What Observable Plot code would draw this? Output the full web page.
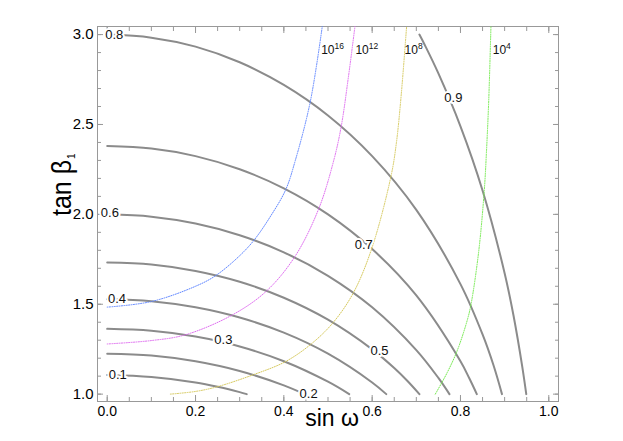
<!DOCTYPE html>
<html><head><meta charset="utf-8">
<script src="https://cdn.jsdelivr.net/npm/d3@7"></script>
<script src="https://cdn.jsdelivr.net/npm/@observablehq/plot@0.6"></script>
<style>body{margin:0;background:#fff}#chart{width:623px;height:441px}</style>
</head><body><div id="chart"></div>
<script>
// axis domains and ticks
const xDomain = [-0.022, 1.022];
const yDomain = [0.959, 3.045];
const xMajorTicks = [0, 0.2, 0.4, 0.6, 0.8, 1.0];
const xMinorTicks = [0,0.05,0.1,0.15,0.2,0.25,0.3,0.35,0.4,0.45,0.5,0.55,0.6,0.65,0.7,0.75,0.8,0.85,0.9,0.95,1.0];
const yMajorTicks = [1.0, 1.5, 2.0, 2.5, 3.0];
const yMinorTicks = [1.0,1.1,1.2,1.3,1.4,1.5,1.6,1.7,1.8,1.9,2.0,2.1,2.2,2.3,2.4,2.5,2.6,2.7,2.8,2.9,3.0];

// gray contour lines: [sin ω, tan β1]
const level01 = [[0,1.106],[0.1,1.095],[0.2,1.065],[0.25,1.041],[0.3,1.011],[0.316,1.0]];
const level02 = [[0,1.225],[0.1,1.215],[0.2,1.183],[0.3,1.129],[0.4,1.049],[0.447,1.0]];
const level03 = [[0,1.363],[0.1,1.352],[0.2,1.320],[0.3,1.265],[0.4,1.183],[0.5,1.069],[0.548,1.0]];
const level04 = [[0,1.528],[0.1,1.517],[0.2,1.483],[0.3,1.426],[0.4,1.342],[0.5,1.225],[0.6,1.065],[0.632,1.0]];
const level05 = [[0,1.732],[0.1,1.721],[0.2,1.685],[0.3,1.625],[0.4,1.536],[0.5,1.414],[0.6,1.249],[0.65,1.145],[0.68,1.073],[0.707,1.0]];
const level06 = [[0,2.0],[0.1,1.987],[0.2,1.949],[0.3,1.884],[0.4,1.789],[0.5,1.658],[0.6,1.483],[0.7,1.245],[0.75,1.090],[0.775,1.0]];
const level07 = [[0,2.380],[0.1,2.366],[0.2,2.324],[0.3,2.251],[0.4,2.145],[0.5,2.0],[0.6,1.807],[0.7,1.549],[0.8,1.183],[0.82,1.088],[0.837,1.0]];
const level08 = [[0,3.0],[0.1,2.983],[0.2,2.933],[0.3,2.846],[0.4,2.720],[0.5,2.550],[0.6,2.324],[0.7,2.025],[0.8,1.612],[0.85,1.332],[0.875,1.159],[0.894,1.0]];
const level09 = [[0.707,3.0],[0.72,2.938],[0.75,2.784],[0.8,2.490],[0.85,2.133],[0.9,1.673],[0.92,1.439],[0.94,1.152],[0.949,1.0]];
const levelValues = [0.1,0.2,0.3,0.4,0.5,0.6,0.7,0.8,0.9];

// contour labels
const contourLabelText = ["0.1","0.2","0.3","0.4","0.5","0.6","0.7","0.8","0.9"];
const contourLabelS = [0.024, 0.456, 0.263, 0.022, 0.6165, 0.006, 0.581, 0.016, 0.784];
const contourLabelT = [1.107, 1.0, 1.301, 1.529, 1.241, 2.006, 1.830, 3.0, 2.649];

// coloured dotted curves
const scale16 = [[0,1.484],[0.1,1.515],[0.2,1.600],[0.2455,1.659],[0.3,1.77],[0.333,1.858],[0.37,1.99],[0.404,2.136],[0.426,2.30],[0.46,2.628],[0.487,3.045]];
const scale12 = [[0,1.279],[0.1,1.298],[0.177,1.330],[0.283,1.440],[0.36,1.572],[0.425,1.765],[0.479,2.031],[0.513,2.30],[0.53,2.49],[0.546,2.76],[0.561,3.045]];
const scale8 = [[0.143,1.0],[0.2,1.015],[0.249,1.041],[0.331,1.108],[0.403,1.18],[0.462,1.279],[0.512,1.399],[0.558,1.566],[0.600,1.817],[0.643,2.216],[0.655,2.40],[0.666,2.67],[0.678,3.045]];
const scale4 = [[0.743,1.0],[0.770,1.12],[0.7925,1.241],[0.815,1.408],[0.824,1.501],[0.8415,1.798],[0.854,2.136],[0.859,2.355],[0.864,2.634],[0.869,3.045]];
const scaleColors = ["#5f86ff", "#df6cf0", "#d6c95c", "#74ea4e"];
const scaleLabelText = ["10^16", "10^12", "10^8", "10^4"];
const scaleLabelS = [0.4845, 0.562, 0.6735, 0.873];
const scaleLabelT = [2.913, 2.913, 2.913, 2.913];

// build tables
const contourRows = [level01,level02,level03,level04,level05,level06,level07,level08,level09]
  .flatMap((pts, i) => pts.map(([s, t]) => ({level: levelValues[i], s, t})));
const toRows = pts => pts.map(([s, t]) => ({s, t}));
const contourLabels = contourLabelText.map((text, i) => ({text, s: contourLabelS[i], t: contourLabelT[i]}));
const scaleLabels = scaleLabelText.map((text, i) => ({text, s: scaleLabelS[i], t: scaleLabelT[i]}));

const fmt = d => d.toFixed(1);
const tickColor = "#999999";
const dots = {strokeWidth: 1, strokeDasharray: "1,1.4", curve: "catmull-rom"};

const chart = Plot.plot({
  width: 623, height: 441,
  marginLeft: 97, marginRight: 65, marginTop: 26, marginBottom: 40,
  style: {fontFamily: "'Liberation Sans', Arial, sans-serif", background: "#fff", color: "#000"},
  x: {domain: xDomain},
  y: {domain: yDomain},
  marks: [
    Plot.frame({stroke: tickColor}),
    // left / right ticks
    Plot.axisY(yMajorTicks, {anchor: "left", tickSize: 0, tickPadding: 4, fontSize: 15, label: null, tickFormat: fmt}),
    Plot.axisY(yMajorTicks, {anchor: "left", tickSize: -6, fill: "none", label: null, stroke: tickColor}),
    Plot.axisY(yMinorTicks, {anchor: "left", tickSize: -4, fill: "none", label: null, stroke: tickColor}),
    Plot.axisY(yMajorTicks, {anchor: "right", tickSize: -6, fill: "none", label: null, stroke: tickColor}),
    Plot.axisY(yMinorTicks, {anchor: "right", tickSize: -4, fill: "none", label: null, stroke: tickColor}),
    // bottom / top ticks
    Plot.axisX(xMajorTicks, {anchor: "bottom", tickSize: 0, tickPadding: 5, fontSize: 14, label: null, tickFormat: fmt}),
    Plot.axisX(xMajorTicks, {anchor: "bottom", tickSize: -6, fill: "none", label: null, stroke: tickColor}),
    Plot.axisX(xMinorTicks, {anchor: "bottom", tickSize: -4, fill: "none", label: null, stroke: tickColor}),
    Plot.axisX(xMajorTicks, {anchor: "top", tickSize: -6, fill: "none", label: null, stroke: tickColor}),
    Plot.axisX(xMinorTicks, {anchor: "top", tickSize: -4, fill: "none", label: null, stroke: tickColor}),
    // gray contours
    Plot.line(contourRows, {x: "s", y: "t", z: "level", stroke: "#8b8b8b", strokeWidth: 2, curve: "catmull-rom"}),
    // coloured dotted curves
    Plot.line(toRows(scale16), {x: "s", y: "t", stroke: scaleColors[0], ...dots}),
    Plot.line(toRows(scale12), {x: "s", y: "t", stroke: scaleColors[1], ...dots}),
    Plot.line(toRows(scale8), {x: "s", y: "t", stroke: scaleColors[2], ...dots}),
    Plot.line(toRows(scale4), {x: "s", y: "t", stroke: scaleColors[3], ...dots}),
    // labels
    Plot.text(contourLabels, {x: "s", y: "t", text: "text", fontSize: 13, fill: "#111", stroke: "white", strokeWidth: 4}),
    Plot.text(scaleLabels, {x: "s", y: "t", text: "text", fontSize: 12, fill: "#111", textAnchor: "start"}),
    // axis titles
    Plot.text(["sin ω"], {text: d => d, frameAnchor: "bottom", dx: 4, dy: 24, lineAnchor: "bottom", fontSize: 23}),
    Plot.text(["tan β_1"], {text: d => d, frameAnchor: "left", rotate: -90, dx: -27, dy: 2, lineAnchor: "bottom", fontSize: 25})
  ]
});

// superscripts / subscripts as real text
const NS = "http://www.w3.org/2000/svg";
chart.querySelectorAll("text").forEach(t => {
  const sup = t.textContent.match(/^10\^(\d+)$/);
  if (sup) {
    t.textContent = "10";
    const ts = document.createElementNS(NS, "tspan");
    ts.setAttribute("dy", "-5");
    ts.setAttribute("font-size", "8.5");
    ts.textContent = sup[1];
    t.appendChild(ts);
  }
  if (t.textContent === "tan β_1") {
    t.textContent = "tan β";
    const ts = document.createElementNS(NS, "tspan");
    ts.setAttribute("dy", "4");
    ts.setAttribute("dx", "1");
    ts.setAttribute("font-size", "10");
    ts.textContent = "1";
    t.appendChild(ts);
    const tr = t.getAttribute("transform") || "";
    t.setAttribute("transform", tr + " scale(1,1.12)");
  }
});
document.getElementById("chart").appendChild(chart);
</script>
</body></html>
